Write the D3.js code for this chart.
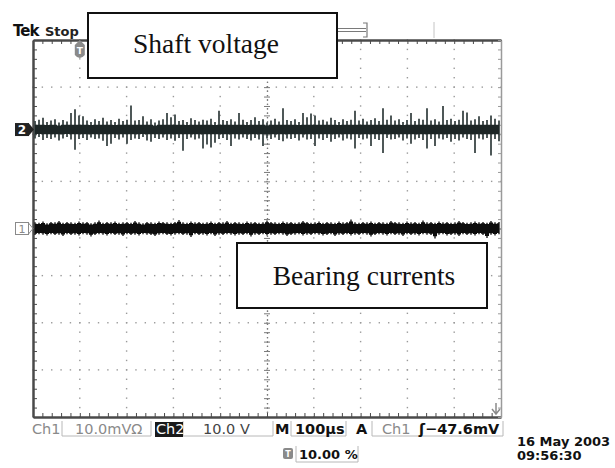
<!DOCTYPE html>
<html>
<head>
<meta charset="utf-8">
<script src="https://cdn.jsdelivr.net/npm/d3@7"></script>
<style>
  body { margin: 0; background: #fff; }
  svg { display: block; }
  .stat { font-family: "DejaVu Sans", sans-serif; font-size: 14.5px; }
</style>
</head>
<body>
<div id="chart"></div>
<script>
// scope settings
const ch1PerDiv = 10;      // mV/div
const ch2PerDiv = 10;      // V/div
const ch2OffsetDiv = 2.1;  // ch2 ground marker above centre
const ch1Core = 1.1;       // mV, dense part of the ch1 band
const ch2Core = 1.0;       // V, dense part of the ch2 band

// ch2 (shaft voltage), peak envelope per sample, V
const ch2Up = [
  1.8, 2.1, 2.5, 1.6, 1.9, 2.2, 1.5, 2.0, 1.7, 3.5,
  4.3, 3.0, 2.8, 1.9, 1.6, 2.2, 1.8, 2.5, 1.7, 2.0,
  1.6, 2.3, 1.8, 2.1, 5.1, 1.9, 2.0, 2.8, 1.7, 2.2,
  1.5, 1.9, 2.2, 3.5, 2.6, 3.2, 1.8, 2.0, 1.6, 2.4,
  2.0, 1.7, 2.1, 1.9, 2.3, 1.6, 4.0, 2.0, 1.8, 2.2,
  1.7, 3.5, 2.1, 1.6, 2.0, 2.6, 1.8, 2.2, 1.5, 1.9,
  2.3, 1.7, 4.5, 2.0, 1.8, 2.2, 1.6, 3.5, 2.6, 3.4,
  3.0, 1.9, 2.1, 1.7, 2.5, 2.0, 1.6, 2.2, 1.8, 2.1,
  4.0, 1.9, 2.3, 1.7, 2.0, 2.4, 1.8, 4.5, 2.1, 3.0,
  1.9, 2.2, 1.6, 2.0, 3.5, 1.8, 2.3, 2.1, 4.5, 1.9,
  2.2, 1.7, 5.0, 2.0, 2.3, 1.8, 2.1, 4.0, 3.6, 1.9,
  2.2, 2.8, 1.8, 2.0, 3.0, 2.3, 1.9
];
const ch2Down = [
  -1.9, -1.6, -2.2, -1.8, -2.0, -1.7, -2.3, -1.9, -1.6, -2.1,
  -4.3, -2.0, -1.8, -2.2, -1.7, -2.0, -1.9, -2.4, -3.5, -3.0,
  -1.8, -2.1, -1.7, -3.0, -2.2, -1.9, -2.0, -1.6, -2.3, -2.6,
  -1.8, -2.0, -1.7, -2.2, -1.9, -2.4, -1.8, -4.5, -2.0, -1.7,
  -2.1, -1.9, -4.0, -3.2, -3.8, -2.8, -2.0, -1.8, -2.2, -3.5,
  -1.9, -2.1, -1.7, -2.0, -2.3, -1.8, -2.1, -3.5, -1.9, -2.0,
  -1.7, -2.2, -2.5, -1.9, -2.0, -1.8, -2.3, -1.7, -2.1, -2.0,
  -3.5, -1.9, -2.2, -1.8, -2.6, -2.0, -1.7, -2.3, -1.9, -2.1,
  -4.0, -1.8, -2.1, -1.9, -3.5, -2.0, -2.2, -5.0, -1.8, -2.1,
  -2.0, -1.7, -2.3, -1.9, -3.0, -2.1, -1.8, -2.2, -4.0, -2.0,
  -3.5, -1.9, -2.1, -1.8, -2.6, -2.0, -2.3, -1.7, -2.0, -2.2,
  -5.0, -1.9, -2.1, -1.8, -5.5, -2.0, -2.5
];

// ch1 (bearing current), peak envelope per sample, mV
const ch1Up = [
  1.3, 1.2, 1.5, 1.1, 1.4, 1.3, 1.6, 1.2, 1.4, 1.3,
  1.2, 1.5, 1.3, 1.4, 1.1, 1.3, 1.7, 1.2, 1.4, 1.3,
  1.5, 1.2, 1.3, 1.4, 1.2, 1.6, 1.3, 1.1, 1.4, 1.3,
  1.2, 1.5, 1.4, 1.3, 1.2, 1.4, 1.8, 1.3, 1.2, 1.5,
  1.3, 1.4, 1.2, 1.3, 1.5, 1.2, 1.4, 1.3, 1.6, 1.2,
  1.4, 1.3, 1.2, 1.5, 1.3, 1.4, 1.2, 1.3, 1.7, 1.4,
  1.3, 1.2, 1.5, 1.3, 1.4, 1.2, 1.3, 1.6, 1.4, 1.2,
  1.3, 1.5, 1.2, 1.4, 1.3, 1.2, 1.5, 1.3, 1.4, 1.9,
  1.3, 1.2, 1.4, 1.3, 1.5, 1.2, 1.4, 1.3, 1.2, 1.6,
  1.4, 1.3, 1.2, 1.5, 1.3, 1.4, 1.2, 1.7, 1.3, 1.4,
  1.2, 1.5, 1.3, 1.4, 1.2, 1.3, 1.6, 1.4, 1.2, 1.3,
  1.5, 1.3, 1.4, 1.2, 1.6, 1.3, 1.4
];
const ch1Down = [
  -1.4, -1.2, -1.3, -1.5, -1.2, -1.4, -1.3, -1.6, -1.2, -1.4,
  -1.3, -1.5, -1.2, -1.3, -1.7, -1.4, -1.2, -1.3, -1.5, -1.2,
  -1.4, -1.3, -1.6, -1.2, -1.4, -1.3, -1.5, -1.2, -1.3, -1.4,
  -1.6, -1.3, -1.2, -1.4, -1.5, -1.3, -1.2, -1.4, -1.3, -1.8,
  -1.2, -1.4, -1.3, -1.5, -1.2, -1.6, -1.3, -1.4, -1.2, -1.3,
  -1.5, -1.3, -1.4, -1.2, -1.7, -1.3, -1.4, -1.2, -1.5, -1.3,
  -1.4, -1.2, -1.3, -1.6, -1.4, -1.3, -1.2, -1.5, -1.3, -1.4,
  -1.2, -1.3, -1.5, -1.4, -1.2, -1.6, -1.3, -1.4, -1.2, -1.5,
  -1.3, -1.4, -1.2, -1.3, -1.7, -1.4, -1.2, -1.3, -1.5, -1.2,
  -1.4, -1.3, -1.6, -1.2, -1.4, -1.3, -1.5, -1.2, -1.3, -1.4,
  -2.1, -1.3, -1.2, -1.5, -1.4, -1.3, -1.6, -1.2, -1.4, -1.3,
  -1.5, -1.2, -1.4, -2.0, -1.3, -1.5, -1.2
];

const W = 615, H = 468;
const plot = {left: 33, right: 501, top: 40, bottom: 417};

const svg = d3.select("#chart").append("svg")
    .attr("width", W)
    .attr("height", H);

// division scales
const xDiv = d3.scaleLinear().domain([0, 10]).range([plot.left, plot.right]);
const yDiv = d3.scaleLinear().domain([-4, 4]).range([plot.bottom, plot.top]);
const xIdx = d3.scaleLinear().domain([0, ch2Up.length - 1]).range([plot.left + 2, plot.right - 2]);
const y1 = d3.scaleLinear().domain([-4 * ch1PerDiv, 4 * ch1PerDiv]).range([plot.bottom, plot.top]);
const y2 = d3.scaleLinear()
    .domain([(-4 - ch2OffsetDiv) * ch2PerDiv, (4 - ch2OffsetDiv) * ch2PerDiv])
    .range([plot.bottom, plot.top]);

const minorX = d3.range(0, 50.5).map(d => d / 5);
const minorY = d3.range(0, 40.5).map(d => d / 5 - 4);

// dotted graticule
const grid = svg.append("g").attr("fill", "#9a9a9a");
for (let i = 1; i < 10; i++) {
  if (i === 5) continue;
  grid.selectAll(null).data(minorY).enter().append("rect")
      .attr("x", xDiv(i) - 0.7).attr("y", d => yDiv(d) - 0.7)
      .attr("width", 1.4).attr("height", 1.4);
}
for (let j = -3; j < 4; j++) {
  if (j === 0) continue;
  grid.selectAll(null).data(minorX).enter().append("rect")
      .attr("x", d => xDiv(d) - 0.7).attr("y", yDiv(j) - 0.7)
      .attr("width", 1.4).attr("height", 1.4);
}

// centre cross with minor ticks
const styleAxis = (g, color, width) => {
  g.selectAll("line").attr("stroke", color).attr("stroke-width", 1);
  g.select(".domain").attr("stroke", color).attr("stroke-width", width);
};
[d3.axisTop, d3.axisBottom].forEach(ax => {
  svg.append("g")
      .attr("transform", "translate(0," + yDiv(0) + ")")
      .call(ax(xDiv).tickValues(minorX).tickSize(3).tickSizeOuter(0).tickFormat(""))
      .call(g => styleAxis(g, "#7a7a7a", 0))
      .call(g => g.select(".domain").attr("stroke-dasharray", "1.4,3").attr("stroke-width", 1.2));
});
[d3.axisLeft, d3.axisRight].forEach(ax => {
  svg.append("g")
      .attr("transform", "translate(" + xDiv(5) + ",0)")
      .call(ax(yDiv).tickValues(minorY).tickSize(3).tickSizeOuter(0).tickFormat(""))
      .call(g => styleAxis(g, "#7a7a7a", 0))
      .call(g => g.select(".domain").attr("stroke-dasharray", "1.4,3").attr("stroke-width", 1.2));
});

// border frame with ticks pointing inward
svg.append("g")
    .attr("transform", "translate(0," + plot.top + ")")
    .call(d3.axisTop(xDiv).tickValues(minorX).tickSize(-4).tickSizeOuter(0).tickFormat(""))
    .call(g => styleAxis(g, "#4a4a4a", 2.5));
svg.append("g")
    .attr("transform", "translate(0," + plot.bottom + ")")
    .call(d3.axisBottom(xDiv).tickValues(minorX).tickSize(-4).tickSizeOuter(0).tickFormat(""))
    .call(g => styleAxis(g, "#4a4a4a", 2.5));
svg.append("g")
    .attr("transform", "translate(" + plot.left + ",0)")
    .call(d3.axisLeft(yDiv).tickValues(minorY).tickSize(-4).tickSizeOuter(0).tickFormat(""))
    .call(g => styleAxis(g, "#4a4a4a", 2.5));
svg.append("g")
    .attr("transform", "translate(" + plot.right + ",0)")
    .call(d3.axisRight(yDiv).tickValues(minorY).tickSize(-3).tickSizeOuter(0).tickFormat(""))
    .call(g => styleAxis(g, "#9a9a9a", 1.5));

// traces
const idx = d3.range(ch2Up.length);

// ch2: spikes around a ragged dense core
svg.append("g").attr("stroke", "#3b4646").attr("stroke-width", 1.8)
  .selectAll("line").data(idx).enter().append("line")
    .attr("x1", i => xIdx(i)).attr("x2", i => xIdx(i))
    .attr("y1", i => y2(ch2Down[i])).attr("y2", i => y2(ch2Up[i]));
svg.append("path")
    .datum(idx)
    .attr("fill", "#1d2626")
    .attr("d", d3.area().curve(d3.curveStep).x(i => xIdx(i))
        .y0(i => y2(Math.max(ch2Down[i], -1.7) * ch2Core / 1.7))
        .y1(i => y2(Math.min(ch2Up[i], 1.7) * ch2Core / 1.7)));

// ch1: dense black band
svg.append("g").attr("stroke", "#1a1a1a").attr("stroke-width", 1.4)
  .selectAll("line").data(idx).enter().append("line")
    .attr("x1", i => xIdx(i)).attr("x2", i => xIdx(i))
    .attr("y1", i => y1(ch1Down[i])).attr("y2", i => y1(ch1Up[i]));
svg.append("path")
    .datum(idx)
    .attr("fill", "#0d0d0d")
    .attr("d", d3.area().curve(d3.curveStep).x(i => xIdx(i))
        .y0(i => y1(ch1Down[i] * ch1Core / 1.4))
        .y1(i => y1(ch1Up[i] * ch1Core / 1.4)));

// channel ground markers
const m2 = y2(0), m1 = y1(0);
svg.append("rect").attr("x", 15).attr("y", m2 - 6.5).attr("width", 14).attr("height", 13).attr("fill", "#222");
svg.append("path").attr("d", `M29,${m2 - 6}L34,${m2}L29,${m2 + 6}Z`).attr("fill", "#222");
svg.append("text").attr("x", 22).attr("y", m2 + 4.5).attr("text-anchor", "middle")
    .attr("fill", "#fff").attr("font-family", "DejaVu Sans").attr("font-weight", "bold")
    .attr("font-size", 12).text("2");
svg.append("rect").attr("x", 15.5).attr("y", m1 - 6).attr("width", 13).attr("height", 12)
    .attr("fill", "#fff").attr("stroke", "#8a8a8a");
svg.append("path").attr("d", `M28.5,${m1 - 5.5}L33,${m1}L28.5,${m1 + 5.5}`)
    .attr("fill", "none").attr("stroke", "#8a8a8a");
svg.append("text").attr("x", 22).attr("y", m1 + 4.5).attr("text-anchor", "middle")
    .attr("fill", "#8a8a8a").attr("font-family", "DejaVu Sans").attr("font-size", 11).text("1");

// trigger position marker at the top
const tx = xDiv(1);
svg.append("path")
    .attr("d", `M${tx - 5},45L${tx},40L${tx + 5},45L${tx + 5},55Q${tx},61 ${tx - 5},55Z`)
    .attr("fill", "#8a8a8a");
svg.append("text").attr("x", tx).attr("y", 54).attr("text-anchor", "middle")
    .attr("fill", "#fff").attr("font-family", "DejaVu Sans").attr("font-weight", "bold")
    .attr("font-size", 9).text("T");

// trigger level arrow (below screen)
svg.append("path")
    .attr("d", "M496,403V413M492,409L496,414L500,409")
    .attr("fill", "none").attr("stroke", "#8a8a8a").attr("stroke-width", 1.5);

// record bar at top
svg.append("path")
    .attr("d", "M300,28.5H366M300,31.5H366M363,23H367V37H363")
    .attr("fill", "none").attr("stroke", "#7a7a7a").attr("stroke-width", 1.2);
svg.append("line").attr("x1", 434).attr("x2", 434).attr("y1", 22).attr("y2", 38)
    .attr("stroke", "#c4c4c4");

// Tek Stop
svg.append("text").attr("x", 13).attr("y", 36)
    .attr("font-family", "DejaVu Sans").attr("font-weight", "bold").attr("font-size", 15)
    .attr("letter-spacing", -1).attr("fill", "#111").text("Tek");
svg.append("text").attr("x", 45).attr("y", 36)
    .attr("font-family", "DejaVu Sans").attr("font-weight", "bold").attr("font-size", 13)
    .attr("fill", "#222").text("Stop");

// annotation boxes
const notes = [
  {label: "Shaft voltage", x0: 88, x1: 337, y0: 13, y1: 78, tx: 206, ty: 53},
  {label: "Bearing currents", x0: 237, x1: 487, y0: 243, y1: 308, tx: 364, ty: 285}
];
notes.forEach(n => {
  svg.append("rect")
      .attr("x", n.x0).attr("y", n.y0)
      .attr("width", n.x1 - n.x0).attr("height", n.y1 - n.y0)
      .attr("fill", "#fff").attr("stroke", "#111").attr("stroke-width", 2);
  svg.append("text")
      .attr("x", n.tx).attr("y", n.ty).attr("text-anchor", "middle")
      .attr("font-family", "Liberation Serif, serif").attr("font-size", 27.5)
      .attr("fill", "#111").text(n.label);
});

// status readout
const boxes = [[62, 151], [183, 273], [291, 346], [372, 503]];
boxes.forEach(b => {
  svg.append("path")
      .attr("d", `M${b[0]},421V436H${b[1]}V421`)
      .attr("fill", "none").attr("stroke", "#b8b8b8");
});
svg.append("rect").attr("x", 155).attr("y", 422).attr("width", 28).attr("height", 15).attr("fill", "#1a1a1a");

const status = [
  {t: "Ch1", x: 32, c: "#8a8a8a", w: "normal"},
  {t: "10.0mVΩ", x: 75, c: "#8a8a8a", w: "normal"},
  {t: "Ch2", x: 156, c: "#fff", w: "normal"},
  {t: "10.0 V", x: 203, c: "#444", w: "normal"},
  {t: "M", x: 275, c: "#111", w: "bold"},
  {t: "100µs", x: 295, c: "#111", w: "bold"},
  {t: "A", x: 356, c: "#111", w: "bold"},
  {t: "Ch1", x: 382, c: "#8a8a8a", w: "normal"},
  {t: "ʃ−47.6mV", x: 419, c: "#111", w: "bold"}
];
status.forEach(s => {
  svg.append("text").attr("class", "stat")
      .attr("x", s.x).attr("y", 434)
      .attr("fill", s.c).attr("font-weight", s.w).text(s.t);
});

// trigger position readout
svg.append("rect").attr("x", 283).attr("y", 448).attr("width", 10).attr("height", 11)
    .attr("rx", 2).attr("fill", "#8a8a8a");
svg.append("text").attr("x", 288).attr("y", 457).attr("text-anchor", "middle")
    .attr("fill", "#fff").attr("font-family", "DejaVu Sans").attr("font-weight", "bold")
    .attr("font-size", 8).text("T");
svg.append("path").attr("d", "M296,446V462M296,462H358V446")
    .attr("fill", "none").attr("stroke", "#b8b8b8");
svg.append("text").attr("class", "stat").attr("x", 299).attr("y", 459)
    .attr("font-weight", "bold").style("font-size", "13px").attr("fill", "#111").text("10.00 %");

// date and time
svg.append("text").attr("class", "stat").attr("x", 517).attr("y", 446)
    .attr("font-weight", "bold").style("font-size", "13px").attr("fill", "#111").text("16 May 2003");
svg.append("text").attr("class", "stat").attr("x", 517).attr("y", 460)
    .attr("font-weight", "bold").style("font-size", "13px").attr("fill", "#111").text("09:56:30");
</script>
</body>
</html>
